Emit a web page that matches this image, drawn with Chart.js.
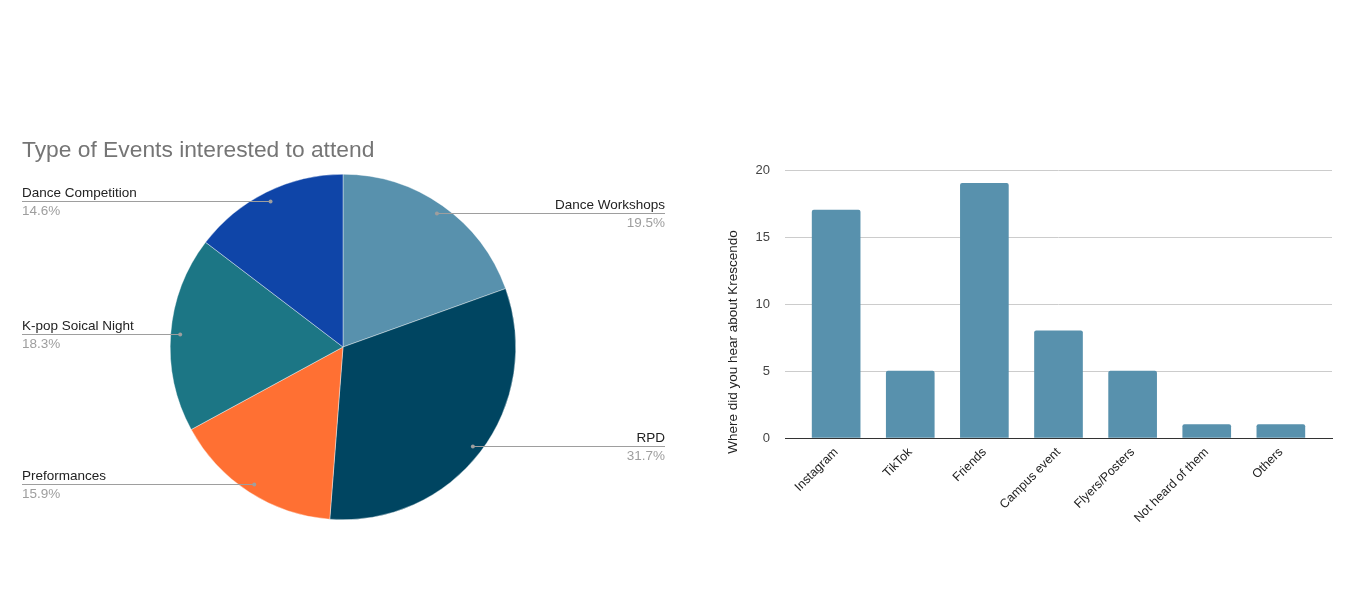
<!DOCTYPE html>
<html>
<head>
<meta charset="utf-8">
<script src="https://cdn.jsdelivr.net/npm/chart.js@4/dist/chart.umd.min.js"></script>
<style>
  html, body { margin: 0; padding: 0; background: #fff; }
  body { width: 1366px; height: 589px; position: relative; overflow: hidden; }
  .box { position: absolute; top: 0; height: 589px; }
</style>
</head>
<body>
<div class="box" style="left:0; width:690px;"><canvas id="pieChart"></canvas></div>
<div class="box" style="left:690px; width:676px;"><canvas id="barChart"></canvas></div>
<script>
const FONT = "'Liberation Sans', Arial, sans-serif";

// pie: type of events (counts, shown as percentages)
const pieTitle = "Type of Events interested to attend";
const eventLabels = ["Dance Workshops", "RPD", "Preformances", "K-pop Soical Night", "Dance Competition"];
const eventCounts = [16, 26, 13, 15, 12];
const eventColors = ["#5891ad", "#004561", "#ff7033", "#1c7685", "#0f45a8"];

// bar: where did you hear about Krescendo
const sourceLabels = ["Instagram", "TikTok", "Friends", "Campus event", "Flyers/Posters", "Not heard of them", "Others"];
const sourceCounts = [17, 5, 19, 8, 5, 1, 1];
const yTicks = [0, 5, 10, 15, 20];
const yTitle = "Where did you hear about Krescendo";

// labels with leader lines, like the sheets pie
const pieLabels = {
  id: "pieLabels",
  afterDatasetsDraw(chart) {
    const ctx = chart.ctx;
    const meta = chart.getDatasetMeta(0);
    const data = chart.data.datasets[0].data;
    const total = data.reduce((a, b) => a + b, 0);
    ctx.save();
    ctx.fillStyle = "#757575";
    ctx.font = "22.8px " + FONT;
    ctx.textAlign = "left";
    ctx.textBaseline = "alphabetic";
    ctx.fillText(pieTitle, 22, 157);

    meta.data.forEach((arc, i) => {
      const p = arc.getProps(["x", "y", "startAngle", "endAngle", "outerRadius"], true);
      const a = (p.startAngle + p.endAngle) / 2;
      const r = p.outerRadius * 0.945;
      const dx = p.x + Math.cos(a) * r;
      const dy = Math.round(p.y + Math.sin(a) * r) + 0.5;
      const left = dx < p.x;
      const x0 = left ? 22 : dx;
      const x1 = left ? dx : 665;

      ctx.strokeStyle = "#9e9e9e";
      ctx.lineWidth = 1;
      ctx.beginPath();
      ctx.moveTo(x0, dy);
      ctx.lineTo(x1, dy);
      ctx.stroke();
      ctx.fillStyle = "#9e9e9e";
      ctx.beginPath();
      ctx.arc(dx, dy, 2, 0, Math.PI * 2);
      ctx.fill();

      ctx.font = "13.5px " + FONT;
      ctx.textAlign = left ? "left" : "right";
      const tx = left ? 22 : 665;
      ctx.fillStyle = "#222";
      ctx.fillText(chart.data.labels[i], tx, dy - 5);
      ctx.fillStyle = "#9e9e9e";
      ctx.fillText((data[i] / total * 100).toFixed(1) + "%", tx, dy + 13);
    });
    ctx.restore();
  }
};

new Chart(document.getElementById("pieChart"), {
  type: "pie",
  data: {
    labels: eventLabels,
    datasets: [{
      data: eventCounts,
      backgroundColor: eventColors,
      borderColor: "#ffffff",
      borderWidth: 0.4,
    }],
  },
  options: {
    responsive: true,
    maintainAspectRatio: false,
    animation: false,
    layout: { padding: { left: 170, right: 174, top: 174, bottom: 69 } },
    plugins: { legend: { display: false }, tooltip: { enabled: false } },
  },
  plugins: [pieLabels],
});

const yTitlePlugin = {
  id: "yTitlePlugin",
  afterDraw(chart) {
    const ctx = chart.ctx;
    ctx.save();
    ctx.translate(43, 342);
    ctx.rotate(-Math.PI / 2);
    ctx.font = "13.5px " + FONT;
    ctx.fillStyle = "#222";
    ctx.textAlign = "center";
    ctx.textBaseline = "middle";
    ctx.fillText(yTitle, 0, 0);
    ctx.restore();
  }
};

new Chart(document.getElementById("barChart"), {
  type: "bar",
  data: {
    datasets: [{
      data: sourceCounts.map((v, i) => ({ x: i, y: v })),
      backgroundColor: "#5891ad",
      barThickness: 48,
      borderRadius: 2,
      borderSkipped: "bottom",
    }],
  },
  options: {
    responsive: true,
    maintainAspectRatio: false,
    animation: false,
    layout: { padding: { left: 0, right: 34, top: 170, bottom: 0 } },
    plugins: { legend: { display: false }, tooltip: { enabled: false } },
    scales: {
      x: {
        type: "linear",
        offset: false,
        min: -0.69,
        max: 6.69,
        afterFit: (s) => { s.height = 151; },
        grid: { display: false, drawTicks: false },
        border: { display: true, color: "#333", width: 1 },
        ticks: {
          stepSize: 1,
          includeBounds: false,
          autoSkip: false,
          minRotation: 45,
          maxRotation: 45,
          padding: 7,
          color: "#222",
          font: { family: FONT, size: 12.4 },
          callback: (v) => sourceLabels[v] ?? "",
        },
      },
      y: {
        min: yTicks[0],
        max: yTicks[yTicks.length - 1],
        afterFit: (s) => { s.width = 95; },
        afterBuildTicks: (s) => { s.ticks = yTicks.map((v) => ({ value: v })); },
        grid: { color: "#cccccc", drawTicks: false },
        border: { display: false },
        ticks: {
          padding: 15,
          color: "#444",
          font: { family: FONT, size: 13 },
        },
      },
    },
  },
  plugins: [yTitlePlugin],
});
</script>
</body>
</html>
